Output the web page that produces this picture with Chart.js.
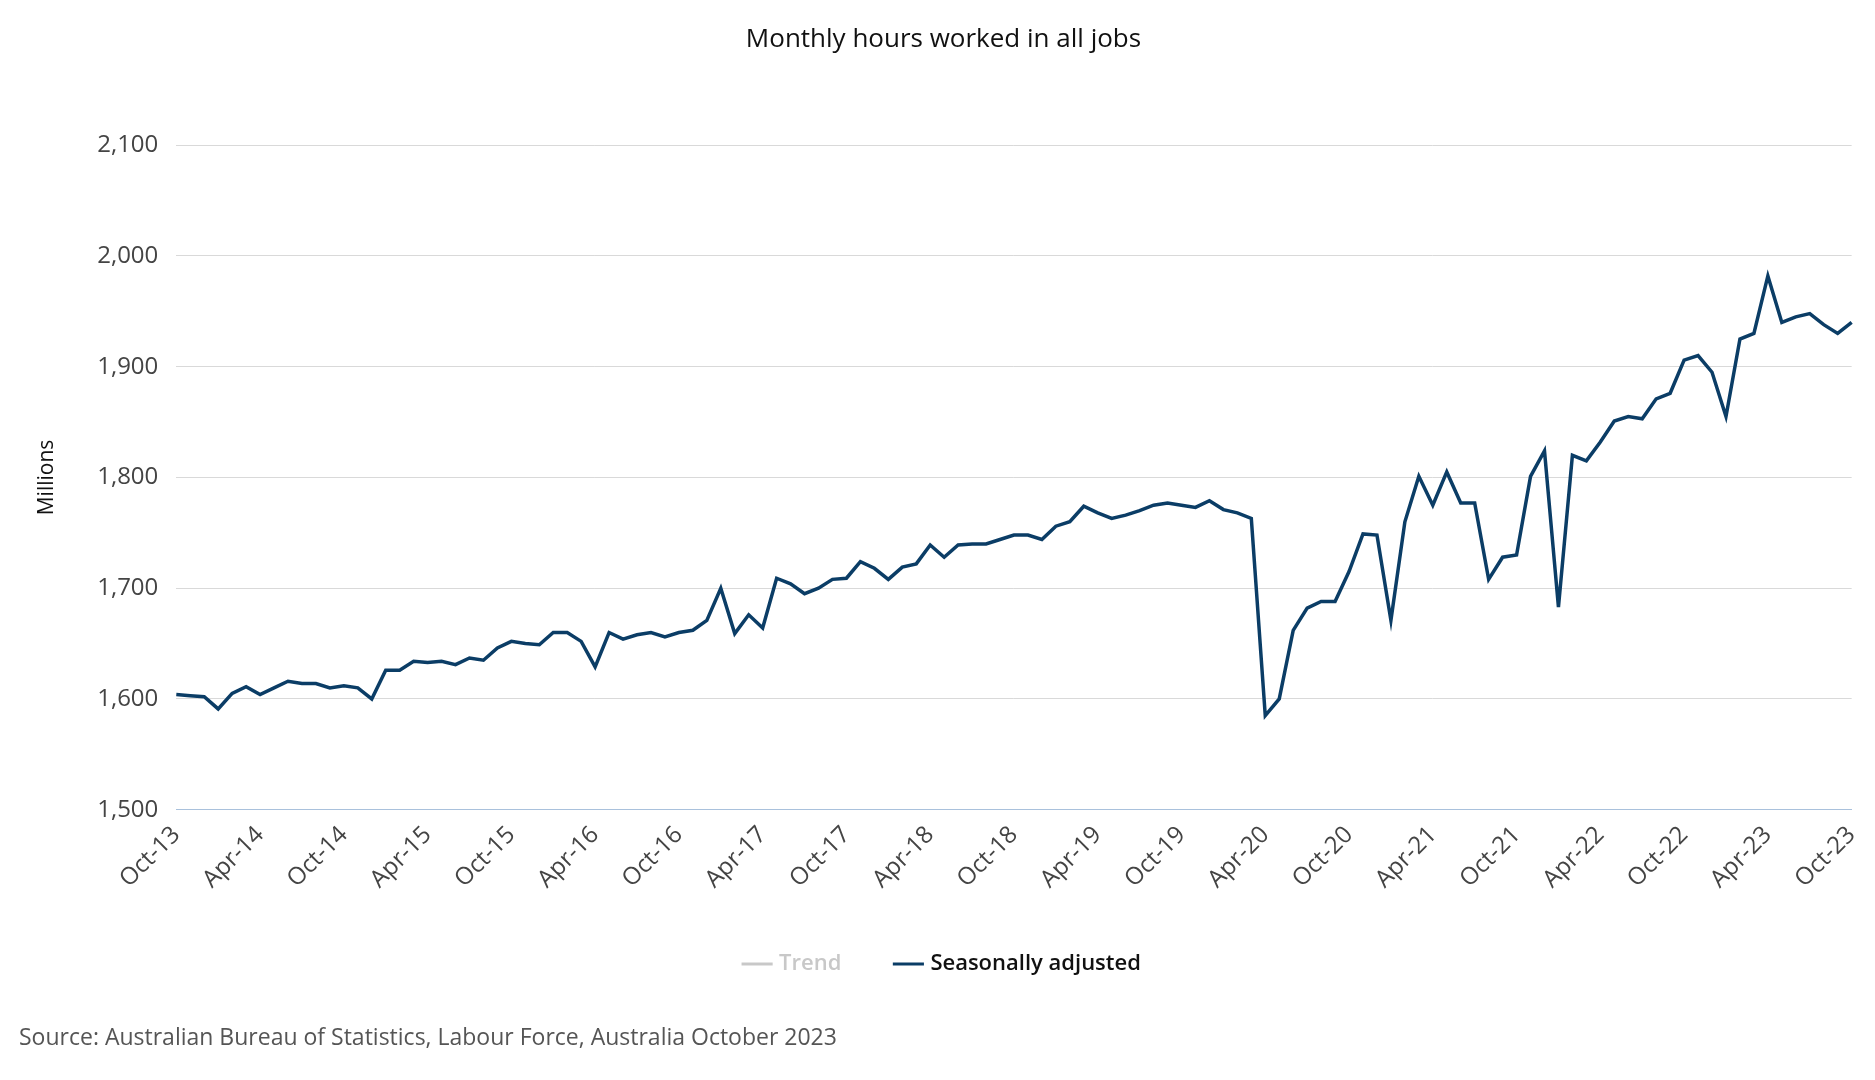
<!DOCTYPE html>
<html><head><meta charset="utf-8">
<script src="https://cdn.jsdelivr.net/npm/chart.js@4"></script>
<style>
html,body{margin:0;padding:0;background:#fff;}
#wrap{position:relative;width:1875px;height:1080px;}
#src{position:absolute;left:19px;top:1020px;font:23px "Open Sans";color:#555;}
</style></head><body>
<div id="wrap"><canvas id="c" width="1875" height="1080"></canvas>
<div id="src">Source: Australian Bureau of Statistics, Labour Force, Australia October 2023</div></div>
<script>
const monthNames=['Jan','Feb','Mar','Apr','May','Jun','Jul','Aug','Sep','Oct','Nov','Dec'];
const startYear=2013, startMonth=9, nMonths=121;
const categories=[];
for(let i=0;i<nMonths;i++){const m=(startMonth+i)%12;const y=startYear+Math.floor((startMonth+i)/12);categories.push(monthNames[m]+'-'+String(y).slice(2));}
const seasonallyAdjusted=[1604,1603,1602,1591,1605,1611,1604,1610,1616,1614,1614,1610,
1612,1610,1600,1626,1626,1634,1633,1634,1631,1637,1635,1646,
1652,1650,1649,1660,1660,1652,1629,1660,1654,1658,1660,1656,
1660,1662,1671,1700,1659,1676,1664,1709,1704,1695,1700,1708,
1709,1724,1718,1708,1719,1722,1739,1728,1739,1740,1740,1744,
1748,1748,1744,1756,1760,1774,1768,1763,1766,1770,1775,1777,
1775,1773,1779,1771,1768,1763,1585,1600,1662,1682,1688,1688,
1715,1749,1748,1671,1760,1801,1775,1805,1777,1777,1708,1728,
1730,1801,1824,1683,1820,1815,1832,1851,1855,1853,1871,1876,
1906,1910,1895,1855,1925,1930,1982,1940,1945,1948,1938,1930,1940];
const trend=[];
const yTicks=[1500,1600,1700,1800,1900,2000,2100];
new Chart(document.getElementById('c'),{
 type:'line',
 data:{labels:categories,datasets:[
  {label:'Trend',data:trend,borderColor:'#c8c8c8',backgroundColor:'#c8c8c8',hidden:true},
  {label:'Seasonally adjusted',data:seasonallyAdjusted,borderColor:'#0b3d66',backgroundColor:'#0b3d66',borderWidth:3.5,pointRadius:0,tension:0}
 ]},
 options:{responsive:false,animation:false,
  layout:{padding:{left:30,right:18,top:10,bottom:95}},
  plugins:{
   title:{display:true,text:'Monthly hours worked in all jobs',color:'#111',font:{family:'Open Sans',size:26,weight:'normal'},padding:{top:14,bottom:90}},
   legend:{position:'bottom',onClick:null,labels:{usePointStyle:true,pointStyle:'line',boxWidth:30,padding:56,font:{family:'Open Sans',size:22,weight:'600'},color:'#111',
    generateLabels(chart){return chart.data.datasets.map((d,i)=>({text:d.label,strokeStyle:d.borderColor,fillStyle:d.borderColor,lineWidth:3,pointStyle:'line',hidden:false,fontColor:i===0?'#c8c8c8':'#111',datasetIndex:i}));}}},
   tooltip:{enabled:false}
  },
  scales:{
   x:{grid:{display:false},border:{color:'#a9c1dc'},
    ticks:{autoSkip:false,maxRotation:45,minRotation:45,color:'#444',font:{family:'Open Sans',size:24},
     callback(v,i){return i%6===0?categories[i]:'';}}},
   y:{min:1500,max:2100,afterBuildTicks(ax){ax.ticks=yTicks.map(v=>({value:v}));},
    grid:{color:'#d9d9d9',drawTicks:false},border:{display:false},
    ticks:{padding:18,color:'#444',font:{family:'Open Sans',size:24},callback:v=>v.toLocaleString('en-US')},
    title:{display:true,text:'Millions',color:'#111',font:{family:'Open Sans',size:21},padding:{bottom:20}}}
  }
 }
});
</script></body></html>
